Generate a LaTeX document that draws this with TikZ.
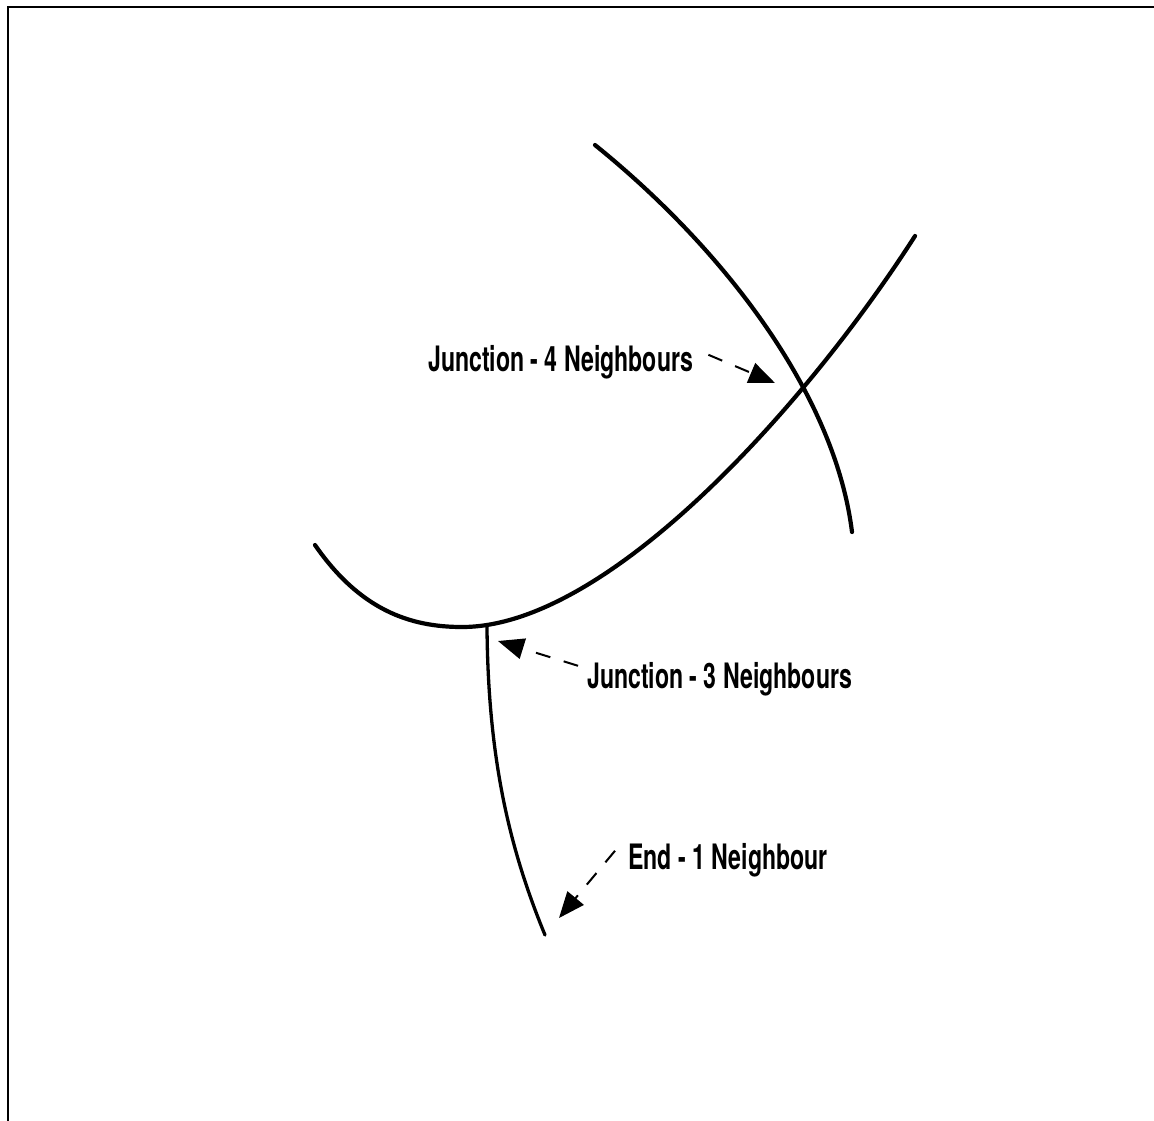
\documentclass[tikz,border=0pt]{standalone}
\usepackage{fontspec}
\setmainfont{TeX Gyre Heros}[FakeStretch=0.66]
\usetikzlibrary{arrows.meta}
\begin{document}
\begin{tikzpicture}[x=1pt,y=-1pt,
  curve/.style={line width=4.2pt,line cap=round},
  branch/.style={line width=3.3pt,line cap=round},
  lbl/.style={anchor=base west,inner sep=0pt,font=\fontsize{35}{40}\selectfont\bfseries},
  pointer/.style={line width=2pt,dash pattern=on 15pt off 14pt,-{Triangle[length=26pt,width=21pt]}},
  frame/.style={line width=2.5pt}]
\useasboundingbox (0,0) rectangle (1154,1120);
\fill[white] (0,0) rectangle (1154,1120);
% frame (only left and top edges visible)
\draw[frame] (8,1125) -- (8,7) -- (1160,7);
% curves
\draw[curve] (595,145) .. controls (725,250) and (835,395) .. (852,532);
\draw[curve] (315,545) .. controls (360,610) and (410,627) .. (462,627)
                       .. controls (610,627) and (810,400) .. (915,236);
\coordinate (jb) at (487,627);
\draw[branch] (jb) .. controls (488,760) and (510,850) .. (545,935);
% labels
\node[lbl] (j4) at (428,371) {Junction - 4 Neighbours};
\node[lbl] (j3) at (587,688) {Junction - 3 Neighbours};
\node[lbl] (e1) at (628,869) {End - 1 Neighbour};
% pointer tips
\coordinate (t4) at (775,383);
\coordinate (t3) at (498,641);
\coordinate (t1) at (559,918);
\draw[pointer] ([xshift=15pt,yshift=7pt]j4.east) -- (t4);
\draw[pointer] ([xshift=-9pt,yshift=13pt]j3.west) -- (t3);
\draw[pointer] ([xshift=-13pt,yshift=9pt]e1.west) -- (t1);
\end{tikzpicture}
\end{document}
